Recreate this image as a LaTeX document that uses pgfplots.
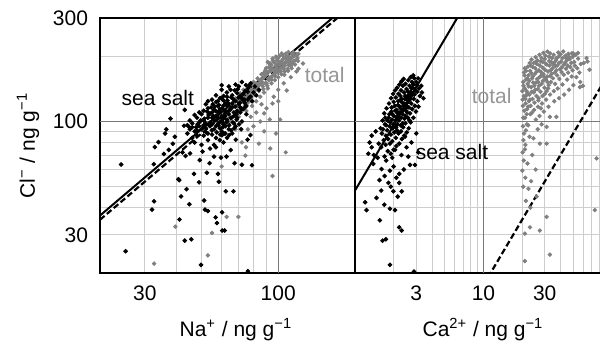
\documentclass[border=0pt]{standalone}
\usepackage{fontspec}
\setmainfont{Liberation Sans}
\usepackage{pgfplots}
\pgfplotsset{compat=1.18}

\definecolor{gridlight}{RGB}{205,205,205}
\definecolor{griddark}{RGB}{120,120,120}
\definecolor{ptgray}{RGB}{128,128,128}
\definecolor{txtgray}{RGB}{150,150,150}

\pgfplotsset{
  panel/.style={
    scale only axis, height=127.5pt,
    ymin=20, ymax=300,
    axis line style={line width=0.75pt},
    major tick length=0pt, minor tick length=0pt,
    grid=both,
    major grid style={draw=gridlight, line width=0.5pt},
    minor grid style={draw=gridlight, line width=0.5pt},
    ytick={30,100,300}, yticklabels={30,100,300},
    minor ytick={40,50,60,70,80,90,200},
    extra y ticks={100}, extra y tick labels={},
    extra y tick style={grid=major, major grid style={draw=griddark, line width=0.6pt}},
    xticklabel style={yshift=-3pt},
    yticklabel style={xshift=-2.5pt},
  },
  seasalt/.style={only marks, color=black, mark=*, mark size=0.95pt,
    mark options={draw=black, fill=black, line width=0.4pt}},
  total/.style={only marks, color=ptgray, mark=*, mark size=0.9pt,
    mark options={draw=ptgray, fill=ptgray, line width=0.4pt}},
}

\begin{document}
\begin{tikzpicture}[font=\fontsize{10.5}{12.6}\selectfont]
\useasboundingbox (-50pt,-37pt) rectangle (250pt,136.5pt);

% ---------- Cl- versus Na+ ----------
\begin{loglogaxis}[panel, at={(0pt,0pt)}, anchor=south west, width=127.5pt,
  xmin=20, xmax=200,
  xtick={30,100}, xticklabels={30,100},
  minor xtick={40,50,60,70,80,90},
  extra x ticks={100}, extra x tick labels={},
  extra x tick style={grid=major, major grid style={draw=griddark, line width=0.6pt}},
  xlabel={Na\textsuperscript{+} / ng g\textsuperscript{−1}},
  xlabel style={at={(axis description cs:0.533,-0.25)}, anchor=base},
  ylabel={Cl\textsuperscript{−} / ng g\textsuperscript{−1}},
  ylabel style={at={(axis description cs:-0.282,0.5)}, anchor=center},
]
% total Na+
\addplot[total] coordinates {
(70,125) (72,130) (75,135) (78,140) (80,146) (82,150) (85,155) (88,160) (90,165) (92,170)
(95,175) (98,180) (100,185) (103,190) (105,195) (108,198) (110,200) (112,195) (115,190) (106,185)
(102,178) (97,170) (93,160) (90,150) (87,145) (84,138) (81,132) (78,128) (76,122) (74,118)
(86,165) (89,172) (94,182) (99,192) (96,188) (104,202) (100,196) (92,178) (88,168) (83,158)
(80,152) (77,148) (73,140) (71,135) (68,128) (66,120) (69,118) (72,115) (75,112) (79,118)
(82,124) (85,130) (88,136) (91,142) (94,150) (97,155) (100,160) (103,165) (106,170) (109,175)
(112,180) (114,185) (117,192) (118,202) (113,205) (107,205) (101,200) (95,195) (108,188) (110,182)
(104,178) (98,168) (95,162) (92,155) (89,150) (86,148) (83,142) (80,138) (77,132) (74,128)
(71,122) (99,174) (102,184) (97,186) (93,176) (90,170) (87,158) (84,150) (81,144) (78,136)
(93,185) (91,188) (111,190) (115,200) (120,205) (119,196) (105,175)
(86.3,152) (88.7,163) (91.4,158) (93.6,171) (96.2,166) (98.4,178) (101.3,173) (103.7,186) (106.2,181) (108.8,192)
(111.4,187) (113.2,197) (89.6,176) (92.8,183) (95.4,191) (97.9,199) (100.8,188) (104.6,194) (107.4,199) (110.6,196)
(83.7,146) (81.2,139) (79.4,134) (77.6,125) (75.2,129) (73.4,122) (87.4,141) (90.6,146) (94.3,156) (97.2,162)
(99.6,168) (102.4,170) (105.6,164) (109.3,171) (112.8,176) (116.4,183) (119.4,190) (114.7,208) (109.6,209) (103.2,206)
(108,139) (107,72) (95,56) (101.7,102) (92.6,102) (84,79) (74.7,76) (74.3,69.6) (69.8,36.3) (62.7,36.3)
(55,30.6) (53,24.1) (39.5,32.7) (32.6,22.1) (60,62) (88,109) (95,121) (117.5,202) (90,115) (85,100)
(80,95) (76,92) (82,110) (78,105) (86,120) (112,160) (105,150) (100,140) (96,130) (120,175)
(125,185) (118,170) (98,88) (88,90) (72,80) (68,92) (65,100) (70,105) (93,75) (100,124)
};
% sea-salt Na+
\addplot[seasalt] coordinates {
(52,98) (55,104) (57,101) (58,110) (60,106) (62,112) (54,95) (56,92) (59,99) (61,103)
(63,118) (65,115) (66,121) (68,124) (70,120) (72,128) (67,110) (64,108) (53,88) (50,92)
(48,86) (49,95) (51,101) (47,90) (46,84) (55,87) (57,84) (60,90) (62,95) (58,118)
(56,113) (54,109) (53,115) (61,125) (63,130) (66,132) (69,135) (71,131) (74,138) (76,142)
(73,125) (75,118) (78,130) (80,136) (77,146) (70,145) (65,140) (60,128) (58,124) (52,120)
(50,108) (48,104) (46,98) (45,92) (44,88) (47,80) (50,78) (53,82) (56,78) (59,82)
(62,88) (64,92) (67,98) (69,104) (71,110) (73,114) (75,108) (72,100) (68,95) (66,88)
(63,84) (61,80) (57,76) (54,75) (51,86) (49,99) (52,93) (55,97) (57,95) (59,93)
(61,97) (63,100) (65,104) (67,106) (69,112) (71,116) (74,122) (76,126) (79,124) (82,132)
(84,140) (81,145) (78,150) (72,152) (68,148) (64,145) (60,140) (57,132) (55,126) (53,124)
(51,112) (49,110) (47,107) (45,101) (44,96) (46,94) (48,91) (58,104) (60,100) (62,106)
(64,112) (66,116) (59,114) (57,106) (55,110) (53,104) (51,96)
(51.3,103) (52.7,111) (54.1,99) (55.6,106) (56.4,117) (57.9,97) (58.8,112) (59.7,104) (60.9,118) (61.8,109)
(62.6,99) (63.9,121) (64.8,113) (65.7,104) (66.9,126) (67.8,117) (68.6,108) (69.9,129) (70.8,122) (71.7,113)
(72.9,134) (73.8,126) (74.6,117) (75.9,137) (77.1,129) (49.6,101) (50.8,94) (52.2,89) (53.6,96) (54.9,91)
(56.2,101) (57.4,89) (58.3,96) (59.2,87) (60.6,94) (61.4,88) (62.9,102) (64.2,96) (65.3,91) (66.4,99)
(67.2,93) (68.7,102) (70.2,97) (55.4,120) (54.6,116) (53.3,107) (57.1,123) (59.1,128) (61.1,131) (62.9,136)
(65.5,129) (67.5,139) (69.4,141) (63.2,125) (56.7,112) (58.5,119) (60.4,115) (62.1,121) (48.3,97) (47.6,94)
(24.2,63.3) (25.2,25.2) (32.6,42.8) (32,39.2) (32.5,63.5) (32.8,76.2) (33.9,80.3) (37.8,103) (36,88) (36.4,92)
(41,35.3) (40.9,53.6) (43,28.2) (45.6,28.6) (49.8,21.8) (41.6,45.1) (43.7,48.7) (44.8,41.5) (51.2,43.2) (51.6,39.2)
(53,38.6) (56.8,36.1) (57.5,34) (60.3,31.4) (61.6,31.4) (60.2,38.1) (62.3,47.6) (66.7,47.6) (58.5,52.7) (58,57.3)
(52.5,58) (48.9,52.4) (46.7,57.3) (40.6,54.1) (43.3,69.3) (42.1,72) (39.3,85) (38.6,78.9) (37.2,73.9) (35.6,70.8)
(42.7,95.5) (44.8,94.2) (45.1,71.2) (49.2,66.3) (50.5,72.6) (53.8,64.2) (56,68.8) (59.6,68.1) (62.7,68.8) (65.1,73.8)
(72,63.1) (78.9,62.8) (67.4,64.2) (60.2,86.5) (64.2,86.5) (68.2,82.4) (75.8,82.4) (77.8,86.5) (71.5,92) (43,113)
(60,147) (74.7,147) (76,20.4)
};
% seawater Cl/Na ratios
\addplot[black, line width=1pt] coordinates {(20,36.8) (200,368)};
\addplot[black, line width=1.1pt, dash pattern=on 3pt off 1.5pt] coordinates {(20,35.2) (200,352)};
\node[anchor=center] at (axis cs:33.7,128) {sea salt};
\node[anchor=center, text=txtgray] at (axis cs:152,163.6) {total};
\end{loglogaxis}

% ---------- Cl- versus Ca2+ ----------
\begin{loglogaxis}[panel, at={(127.5pt,0pt)}, anchor=south west, width=125.5pt,
  xmin=1, xmax=90,
  xtick={3,10,30}, xticklabels={3,10,30},
  minor xtick={2,4,5,6,7,8,9,20,40,50,60,70,80},
  extra x ticks={10}, extra x tick labels={},
  extra x tick style={grid=major, major grid style={draw=griddark, line width=0.6pt}},
  yticklabels={},
  xlabel={Ca\textsuperscript{2+} / ng g\textsuperscript{−1}},
  xlabel style={at={(axis description cs:0.51,-0.25)}, anchor=base},
]
% total Ca2+
\addplot[total] coordinates {
(20.3,118) (20.6,131) (20.9,142) (21.2,127) (21.4,156) (21.7,138) (22.1,149) (22.4,163) (22.8,133) (23.1,171)
(23.5,144) (23.9,158) (24.3,178) (24.7,136) (25.2,166) (25.6,151) (26.1,184) (26.5,141) (27.0,172) (27.4,160)
(27.9,189) (28.4,149) (28.9,177) (29.4,165) (30.0,194) (30.6,156) (31.2,183) (31.8,170) (32.4,199) (33.1,162)
(33.8,188) (34.5,176) (35.2,203) (36.0,168) (36.8,192) (37.6,181) (38.5,199) (39.4,174) (40.3,189) (41.3,196)
(42.4,183) (43.5,201) (44.6,191) (45.8,205) (47.0,194) (48.3,186) (49.6,199) (51.0,188) (20.4,104) (20.8,112)
(21.3,121) (21.9,114) (22.6,124) (23.3,118) (24.1,127) (25.0,122) (25.9,131) (26.8,125) (27.8,137) (28.8,131)
(29.9,143) (31.0,138) (32.2,147) (33.5,152) (34.8,158) (36.1,149) (37.5,163) (39.0,157) (40.6,169) (42.2,164)
(43.9,175) (45.7,168) (47.5,178) (49.4,172) (51.5,181) (53.7,176) (55.9,168) (22.2,179) (22.9,186) (23.7,193)
(24.6,186) (25.5,198) (26.4,191) (27.3,203) (28.3,196) (29.3,207) (30.4,201) (31.5,210) (33.0,206) (34.2,196)
(35.6,187) (37.0,196) (38.3,208) (39.8,204) (41.8,210) (44.0,196) (46.3,199) (48.8,206) (52.3,203) (54.6,195)
(57.3,184) (20.5,146) (20.9,163) (21.5,171) (22.0,135) (22.7,154) (23.6,167) (24.4,151) (25.3,176) (26.2,157)
(27.1,146) (28.1,169) (29.1,154) (30.2,173) (31.4,161) (32.7,181) (34.0,166) (35.4,183) (36.9,172) (38.7,186)
(40.9,178) (43.1,186) (45.2,181) (20.2,126) (21.1,104) (21.8,97) (23.2,108) (24.8,113) (26.6,117) (28.6,121)
(30.8,126) (33.0,133) (35.3,138) (37.9,142) (41.2,148) (44.8,156) (48.7,161) (52.9,160) (56.8,152) (59.5,146)
(50.2,147) (46.3,140) (42.5,133) (38.8,128) (35.6,124) (32.1,117) (29.5,111) (27.3,106) (25.6,102)
(20.1,138) (20.4,152) (20.7,168) (21.0,176) (21.6,132) (22.0,158) (22.5,145) (23.0,126) (23.4,181) (23.8,137)
(24.2,161) (24.9,146) (25.4,188) (26.0,170) (26.7,152) (27.5,181) (28.2,163) (29.0,188) (29.8,160) (30.5,185)
(31.6,152) (32.5,190) (33.4,172) (34.6,185) (36.3,180) (21.7,108) (22.3,117) (23.9,110) (25.3,140) (26.9,128)
(28.0,115) (30.1,134) (31.9,142)
(20.3,95) (20.7,88) (21.4,91) (22.3,96) (20.5,82) (21.2,78) (22.8,85) (24.5,83.6) (20.2,72) (21,74.3)
(20.6,66) (22,64) (20.1,59.3) (21.2,55) (20.4,50) (22.4,48.9) (21.4,43) (23.2,40) (21,30.4) (21,22.7)
(32.9,24.3) (23,32.5) (27.5,31.4) (31,36.3) (27.5,79) (31,79) (32.9,105) (37,105) (31,94.4) (26.5,92)
(28.4,97) (73.6,39) (76,67.5) (50,206) (54.5,207) (63.5,196) (67,173) (56.3,144) (60.5,186) (64.7,189)
(24,70) (25.5,60) (23.5,53) (26,45)
};
% sea-salt Ca2+
\addplot[seasalt] coordinates {
(1.62,88) (1.71,97) (1.78,91) (1.83,104) (1.88,99) (1.92,111) (1.96,93) (2.01,106) (2.04,118) (2.07,101)
(2.11,113) (2.14,97) (2.17,124) (2.19,109) (2.23,117) (2.26,131) (2.29,104) (2.33,122) (2.36,113) (2.41,136)
(2.44,127) (2.48,118) (2.52,141) (2.57,131) (2.61,124) (2.66,146) (2.72,137) (2.78,152) (2.83,143) (2.9,158)
(1.67,82) (1.74,86) (1.81,83) (1.86,95) (1.9,87) (1.94,102) (1.99,97) (2.02,89) (2.06,112) (2.09,94)
(2.12,105) (2.16,119) (2.2,101) (2.24,110) (2.27,96) (2.31,127) (2.35,108) (2.38,118) (2.43,103) (2.46,131)
(2.5,112) (2.55,122) (2.59,137) (2.63,116) (2.69,129) (2.74,121) (2.81,133) (2.87,127) (2.95,139) (3.03,147)
(1.58,93) (1.64,101) (1.69,109) (1.76,115) (1.84,121) (1.91,128) (1.98,134) (2.05,139) (2.13,143) (2.22,148)
(2.3,153) (2.39,157) (1.53,79) (1.6,76) (1.73,78) (1.87,79) (1.95,81) (2.08,84) (2.18,88) (2.28,90)
(2.37,94) (2.47,98) (2.58,104) (2.68,109) (2.79,114) (2.92,118) (3.06,124) (3.2,131) (3.12,117) (2.98,111)
(2.85,104) (2.71,99) (2.62,93) (2.53,89) (2.42,86) (2.32,83) (2.21,79) (2.1,77) (2.0,74) (1.9,71)
(1.8,73) (1.7,69) (2.03,96) (2.1,102) (2.15,109) (2.22,104) (2.27,115) (2.32,111) (2.4,121) (2.45,115)
(2.51,127) (2.56,117) (2.64,133) (2.7,127) (2.76,142) (1.85,108) (1.79,101) (1.72,104) (1.93,116) (2.0,123)
(2.08,129) (2.18,134) (2.28,139) (2.36,146) (2.47,149) (2.6,155) (2.71,160) (2.84,163) (3.0,152) (3.15,142)
(3.32,136) (3.41,128) (3.28,146) (3.1,158) (1.95,108) (2.25,125) (2.55,110) (2.85,148) (1.65,92) (1.75,96)
(2.12,91) (2.35,98) (2.48,106) (2.66,101) (2.9,133) (3.05,137)
(1.23,39) (1.2,42.4) (1.56,35) (1.64,28.2) (1.74,28.6) (1.87,21.8) (2.88,20.3) (2.31,31.4) (2.21,32.5) (2.05,39)
(1.87,39.6) (1.69,41.3) (1.99,47.6) (2.31,47.6) (1.47,44.4) (1.55,53.6) (1.82,52.1) (2.21,52.1) (2.21,57.3) (1.87,59.3)
(1.61,60.3) (1.39,63.7) (1.27,71) (1.35,76) (2.68,63) (2.93,63) (2.6,68.8) (2.52,76) (3.11,72) (1.3,80)
(1.4,70) (1.75,66) (2.0,62) (2.4,60) (2.1,55) (1.7,56) (1.95,68) (2.3,70) (2.05,74) (1.5,68)
(1.9,50) (2.15,45) (1.6,48) (2.45,85) (2.75,80) (3.0,88) (1.45,90) (1.35,86)
};
% reference ratio lines
\addplot[black, line width=1pt] coordinates {(1,48) (10,480)};
\addplot[black, line width=1.1pt, dash pattern=on 3pt off 1.5pt] coordinates {(10,17.6) (90,158.4)};
\node[anchor=center] at (axis cs:5.69,72.3) {sea salt};
\node[anchor=center, text=txtgray] at (axis cs:11.6,131) {total};
\end{loglogaxis}
\end{tikzpicture}
\end{document}
